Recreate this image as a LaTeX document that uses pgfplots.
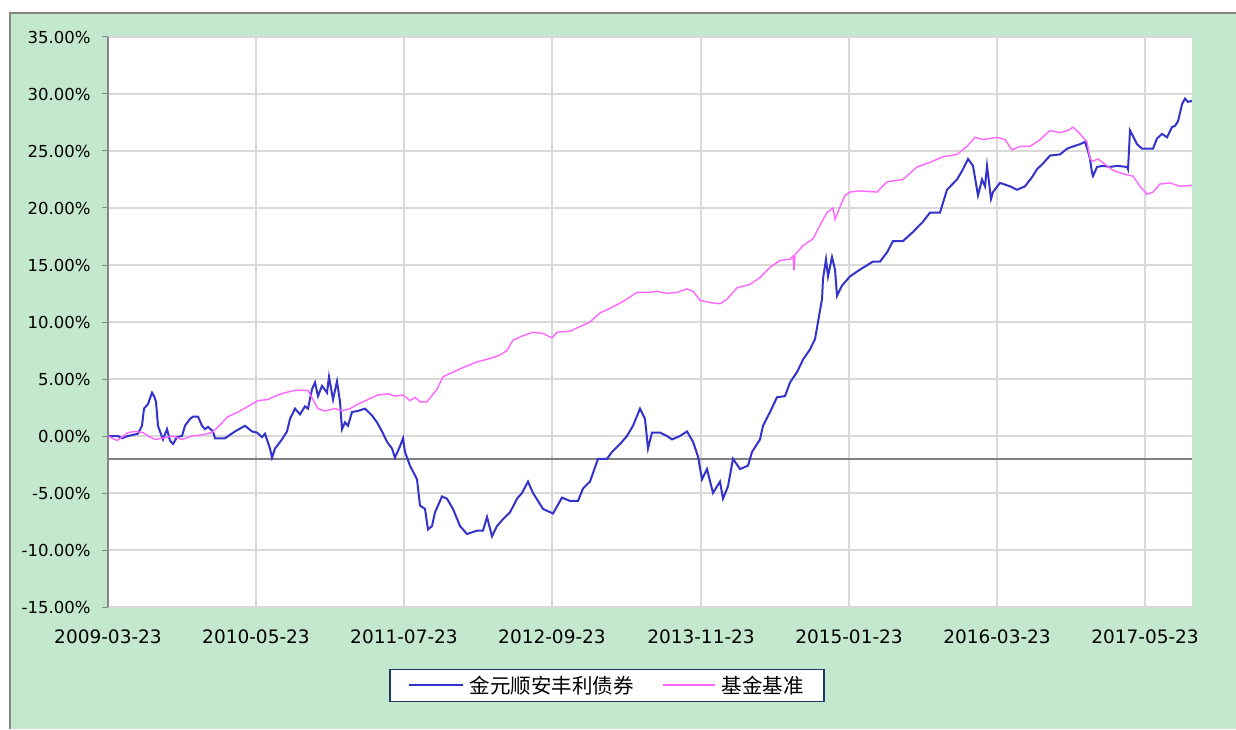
\documentclass[border=0pt]{standalone}
\usepackage{pgfplots}
\usepackage{pgfplotstable}
\pgfplotsset{compat=1.18}
\usepackage{fontspec}
\setmainfont{DejaVu Sans}
\newfontfamily\cjk{Noto Sans CJK SC}
\definecolor{bggreen}{RGB}{196,232,205}
\definecolor{fundblue}{RGB}{51,51,204}
\definecolor{benchpink}{RGB}{255,102,255}
\definecolor{gridgray}{RGB}{217,217,217}
\definecolor{axgray}{RGB}{134,134,134}
\definecolor{zerogray}{RGB}{128,128,128}
\definecolor{legborder}{RGB}{31,56,100}

\pgfplotstableread{
x y
108 0
118 0
122 -0.2
128 0
138 0.2
142 0.9
144 2.4
148 2.8
152 3.8
154 3.5
156 3.0
158 0.9
160 0.4
163 -0.3
167 0.6
170 -0.4
173 -0.7
177 -0.1
182 0
185 0.9
190 1.5
193 1.7
198 1.7
202 0.9
205 0.6
208 0.8
213 0.4
215 -0.2
225 -0.2
235 0.4
245 0.9
252 0.4
257 0.3
262 -0.1
265 0.2
270 -1.1
272 -1.9
275 -1.1
282 -0.3
287 0.4
290 1.5
295 2.4
300 1.9
305 2.6
308 2.4
312 4.1
315 4.7
318 3.5
322 4.4
327 3.8
329 5.2
333 3.2
337 4.8
340 3.0
342 0.6
345 1.2
348 0.9
352 2.1
358 2.2
365 2.4
372 1.8
377 1.2
382 0.4
387 -0.5
392 -1.1
395 -1.9
400 -0.9
403 -0.2
405 -1.4
410 -2.6
417 -3.8
420 -6.1
425 -6.4
428 -8.2
432 -7.9
435 -6.7
442 -5.3
447 -5.5
453 -6.4
460 -7.9
467 -8.6
477 -8.3
483 -8.3
487 -7.1
492 -8.8
497 -7.9
503 -7.3
510 -6.7
517 -5.5
522 -5.0
528 -4.0
533 -5.0
543 -6.4
553 -6.8
562 -5.4
570 -5.7
578 -5.7
583 -4.6
590 -4.0
598 -2.0
607 -2.0
612 -1.4
620 -0.7
627 0.0
633 0.9
640 2.4
645 1.5
648 -1.1
652 0.3
660 0.3
667 0.0
672 -0.3
680 0.0
687 0.4
693 -0.5
698 -1.8
702 -3.8
707 -2.9
713 -5.0
720 -4.0
723 -5.5
728 -4.4
733 -2.0
740 -2.9
748 -2.6
752 -1.4
760 -0.3
763 0.9
770 2.1
777 3.4
785 3.5
790 4.7
797 5.6
803 6.7
810 7.6
815 8.5
818 10.0
822 12.0
823 13.8
826 15.5
828 14.0
832 15.7
835 14.6
837 12.3
842 13.2
850 14.0
860 14.6
873 15.3
880 15.3
887 16.1
893 17.1
903 17.1
913 17.9
923 18.8
930 19.6
940 19.6
947 21.6
957 22.5
963 23.4
968 24.3
973 23.7
978 21.1
982 22.5
985 21.9
987 23.7
991 20.8
993 21.4
1000 22.2
1010 21.9
1017 21.6
1025 21.9
1032 22.7
1037 23.4
1043 23.9
1050 24.6
1060 24.7
1067 25.2
1073 25.4
1080 25.6
1085 25.8
1088 25.0
1090 24.3
1092 23.1
1093 22.8
1097 23.6
1103 23.7
1110 23.6
1117 23.7
1127 23.6
1128 23.4
1130 26.8
1133 26.3
1137 25.6
1142 25.2
1153 25.2
1157 26.1
1162 26.5
1167 26.2
1172 27.1
1175 27.2
1178 27.6
1182 29.1
1185 29.6
1188 29.3
1192 29.4
}\fund

\pgfplotstableread{
x y
108 0
117 -0.4
122 -0.1
128 0.3
135 0.4
143 0.3
148 0
155 -0.3
162 -0.2
172 0
182 -0.3
192 0
202 0.1
212 0.3
218 0.8
228 1.7
238 2.1
248 2.6
258 3.1
268 3.2
275 3.5
285 3.8
295 4.0
308 4.0
313 3.2
318 2.4
325 2.2
335 2.4
342 2.2
350 2.4
358 2.8
368 3.2
378 3.6
388 3.7
395 3.5
403 3.6
410 3.1
415 3.4
420 3.0
427 3.0
437 4.1
443 5.2
453 5.6
463 6.0
477 6.5
490 6.8
500 7.1
507 7.5
513 8.4
523 8.8
533 9.1
543 9.0
552 8.6
557 9.1
570 9.2
580 9.6
590 10.0
600 10.8
610 11.2
623 11.8
637 12.6
650 12.6
657 12.7
667 12.5
677 12.6
687 12.9
693 12.7
700 11.9
710 11.7
720 11.6
727 12.0
737 13.0
750 13.3
760 13.9
770 14.8
780 15.4
790 15.5
793 15.8
794 14.5
795 15.9
803 16.7
813 17.3
820 18.5
827 19.6
833 20.0
835 19.0
840 20.1
845 21.1
850 21.4
860 21.5
877 21.4
887 22.3
903 22.5
917 23.6
930 24.0
943 24.5
957 24.7
967 25.4
975 26.2
983 26.0
997 26.2
1005 26.0
1012 25.1
1020 25.4
1030 25.4
1040 26.0
1050 26.8
1060 26.6
1068 26.8
1073 27.1
1080 26.5
1087 25.8
1090 24.3
1093 24.1
1098 24.3
1107 23.7
1113 23.3
1123 23.0
1133 22.8
1140 21.9
1147 21.2
1153 21.4
1160 22.1
1170 22.2
1180 21.9
1192 22.0
}\bench

\begin{document}
\begin{tikzpicture}[x=1pt,y=1pt]
\useasboundingbox (0,0) rectangle (1236,729);
\fill[white] (0,0) rectangle (1236,729);
\fill[bggreen] (10,0) rectangle (1236,716);
\draw[axgray, line width=1.5pt] (10,0) -- (10,716) -- (1236,716);
\begin{axis}[
  at={(108pt,122pt)}, anchor=south west,
  scale only axis, width=1084pt, height=570pt,
  xmin=108, xmax=1192, ymin=-15, ymax=35,
  axis background/.style={fill=white},
  axis lines*=left,
  x axis line style={draw=none},
  y axis line style={axgray, line width=1.2pt},
  xtick={108,256,404,552,701,849,997,1145},
  xticklabels={2009-03-23,2010-05-23,2011-07-23,2012-09-23,2013-11-23,2015-01-23,2016-03-23,2017-05-23},
  ytick={-15,-10,-5,0,5,10,15,20,25,30,35},
  /pgf/number format/assume math mode=true,
  yticklabel={\pgfmathprintnumber[fixed,fixed zerofill,precision=2]{\tick}\%},
  grid=major,
  major grid style={gridgray, line width=1.5pt},
  tick align=outside, major tick length=6pt,
  ytick style={axgray, line width=1pt},
  xtick style={draw=none},
  yticklabel style={font=\fontsize{16.5}{19}\selectfont, xshift=-8pt},
  xticklabel style={font=\fontsize{18.5}{21}\selectfont, yshift=-13pt},
  legend columns=2,
  legend style={at={(0.4603,-0.1377)}, anchor=center, draw=legborder, line width=1.4pt,
    fill=white, font=\cjk\fontsize{20.5}{23}\selectfont,
    inner xsep=18pt, inner ysep=4.5pt,
    /tikz/every even column/.append style={column sep=26pt},
    /tikz/every odd column/.append style={column sep=4pt}},
]
\draw[zerogray, line width=1.5pt] (axis cs:108,-2) -- (axis cs:1192,-2);
\addplot[fundblue, line width=2pt,
  legend image code/.code={\draw[fundblue, line width=2pt] (0pt,0pt) -- (54pt,0pt);}]
  table[x=x,y=y] {\fund};
\addlegendentry{金元顺安丰利债券}
\addplot[benchpink, line width=1.4pt,
  legend image code/.code={\draw[benchpink, line width=2pt] (0pt,0pt) -- (52pt,0pt);}]
  table[x=x,y=y] {\bench};
\addlegendentry{基金基准}
\end{axis}
\end{tikzpicture}
\end{document}
